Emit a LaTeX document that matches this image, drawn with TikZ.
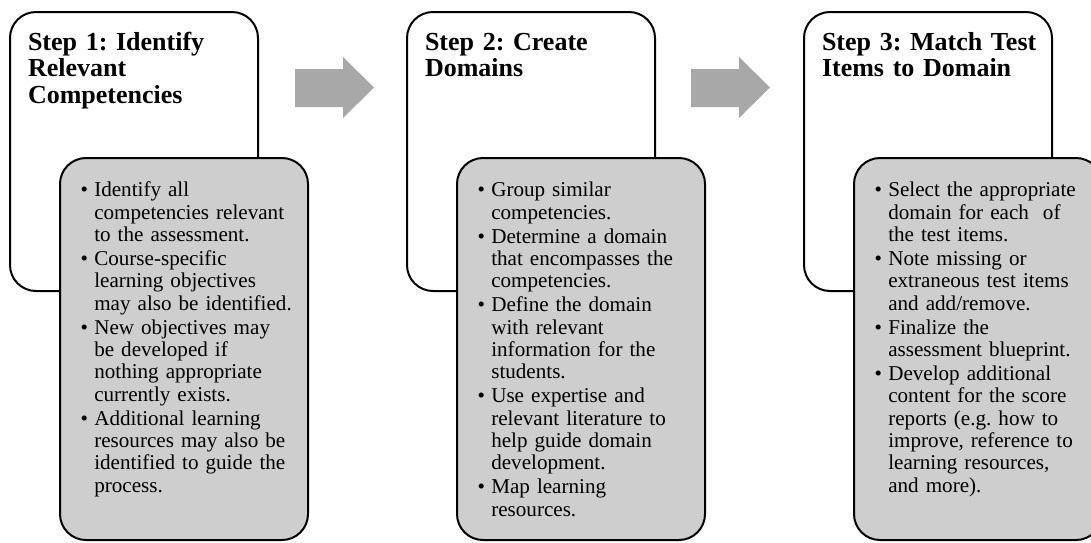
\documentclass[tikz,border=0pt]{standalone}
\usepackage{fontspec}
\setmainfont{Liberation Serif}
\usepackage{tikz}
\frenchspacing

\definecolor{boxgrey}{RGB}{206,206,206}
\definecolor{arrowgrey}{RGB}{168,168,168}

% one bullet of a list box: bullet, then the given lines (hanging indent)
\newcommand{\listitem}[1]{\noindent\hangindent=13.7pt\hangafter=1%
  \makebox[13.7pt][l]{\textbullet}{\let\\\newline#1}\par\vspace{1.8pt}}

\begin{document}
\begin{tikzpicture}[
  x=1pt, y=-1pt,
  line width=2pt,
  line cap=butt, line join=round,
  stepbox/.style={draw=black, fill=white, rounded corners=26pt},
  listbox/.style={draw=black, fill=boxgrey, rounded corners=26pt},
  flowarrow/.style={fill=arrowgrey, draw=none},
  titletext/.style={anchor=base west, inner sep=0pt, text width=235pt,
    font=\fontsize{26pt}{26.5pt}\selectfont\bfseries},
  listtext/.style={anchor=base west, inner sep=0pt, text width=235pt,
    font=\fontsize{21.1pt}{22.3pt}\selectfont}
]
  \useasboundingbox (0,0) rectangle (1091,542);
  % ---- box corners (white step box, grey list box) ----
  \coordinate (W1a) at ( 10,12);  \coordinate (W1b) at ( 258,291);
  \coordinate (G1a) at ( 60,158); \coordinate (G1b) at ( 308,540);
  \coordinate (W2a) at (407,12);  \coordinate (W2b) at ( 655,291);
  \coordinate (G2a) at (457,158); \coordinate (G2b) at ( 705,540);
  \coordinate (W3a) at (804,12);  \coordinate (W3b) at (1052,291);
  \coordinate (G3a) at (854,158); \coordinate (G3b) at (1102,540);
  % ---- arrow tails ----
  \coordinate (A1) at (295,88);
  \coordinate (A2) at (691,88);
  % ---- boxes ----
  \draw[stepbox] (W1a) rectangle (W1b);
  \draw[listbox] (G1a) rectangle (G1b);
  \draw[stepbox] (W2a) rectangle (W2b);
  \draw[listbox] (G2a) rectangle (G2b);
  \draw[stepbox] (W3a) rectangle (W3b);
  \draw[listbox] (G3a) rectangle (G3b);
  % ---- block arrows between the steps ----
  \fill[flowarrow] (A1) ++(0,-19) -- ++(48,0) -- ++(0,-12) -- ++(31,30.5)
    -- ++(-31,30.5) -- ++(0,-11) -- ++(-48,0) -- cycle;
  \fill[flowarrow] (A2) ++(0,-19) -- ++(48,0) -- ++(0,-12) -- ++(31,30.5)
    -- ++(-31,30.5) -- ++(0,-11) -- ++(-48,0) -- cycle;
  % ---- step titles ----
  \node[titletext] (title1) at (27,50)  {Step 1: Identify\\Relevant\\Competencies};
  \node[titletext] (title2) at (424,50) {Step 2: Create\\Domains};
  \node[titletext] (title3) at (821,50) {Step 3: Match Test\\Items to Domain};
  % ---- lists ----
  \node[listtext] (list1) at (79.6,196.7) {%
    \listitem{Identify all\\competencies relevant\\to the assessment.}
    \listitem{Course-specific\\learning objectives\\may also be identified.}
    \listitem{New objectives may\\be developed if\\nothing appropriate\\currently exists.}
    \listitem{Additional learning\\resources may also be\\identified to guide the\\process.}};
  \node[listtext] (list2) at (476.6,196.7) {%
    \listitem{Group similar\\competencies.}
    \listitem{Determine a domain\\that encompasses the\\competencies.}
    \listitem{Define the domain\\with relevant\\information for the\\students.}
    \listitem{Use expertise and\\relevant literature to\\help guide domain\\development.}
    \listitem{Map learning\\resources.}};
  \node[listtext] (list3) at (873.6,196.7) {%
    \listitem{Select the appropriate\\domain for each~~of\\the test items.}
    \listitem{Note missing or\\extraneous test items\\and add/remove.}
    \listitem{Finalize the\\assessment blueprint.}
    \listitem{Develop additional\\content for the score\\reports (e.g. how to\\improve, reference to\\learning resources,\\and more).}};
\end{tikzpicture}
\end{document}
